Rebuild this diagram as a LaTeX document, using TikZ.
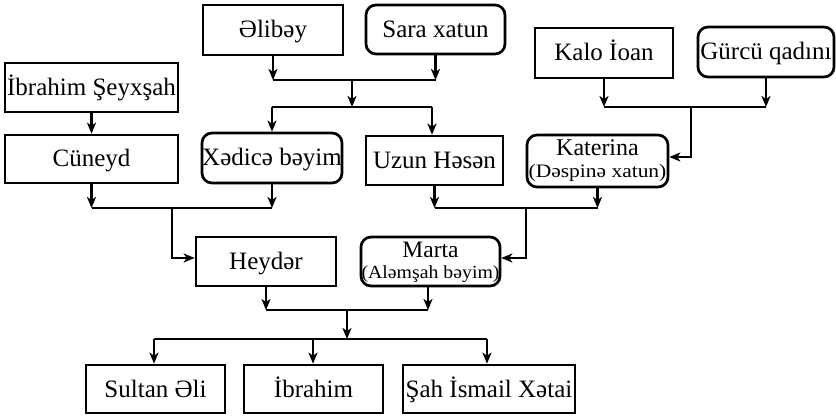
\documentclass[tikz,border=0pt]{standalone}
\usepackage{fontspec}
\setmainfont{Liberation Serif}
\usetikzlibrary{arrows.meta}
\begin{document}
\begin{tikzpicture}[x=1pt,y=-1pt,
  box/.style={draw, line width=2.7pt, inner sep=0pt, font=\fontsize{25}{18}\selectfont,
     text height=16pt, text depth=0pt},
  rbox/.style={box, rounded corners=10pt},
  ln/.style={line width=2.4pt},
  arr/.style={ln, -{Stealth[length=11pt,width=9pt,inset=3pt]}}]
\useasboundingbox (0,0) rectangle (836,417);
% boxes
\node[box, minimum width=140pt, minimum height=50pt] (alibey) at (273,30) {Əlibəy};
\node[rbox, minimum width=139pt, minimum height=49pt] (sara) at (435.5,29.5) {Sara xatun};
\node[box, minimum width=173pt, minimum height=49pt] (ibrs) at (91.5,87.5) {İbrahim Şeyxşah};
\node[box, minimum width=138pt, minimum height=50pt] (kalo) at (604,53) {Kalo İoan};
\node[rbox, minimum width=136pt, minimum height=50pt] (gurcu) at (766,52) {Gürcü qadını};
\node[box, minimum width=173pt, minimum height=48pt] (cuneyd) at (91.5,159) {Cüneyd};
\node[rbox, minimum width=140pt, minimum height=50pt] (xedice) at (272,158) {Xədicə bəyim};
\node[box, minimum width=137pt, minimum height=49pt] (uzun) at (434.5,160.5) {Uzun Həsən};
\node[rbox, minimum width=141pt, minimum height=52pt, align=center,
      font=\fontsize{24}{22}\selectfont, text height=38pt, text depth=4pt] (katerina) at (597.5,161)
  {Katerina\\\scalebox{1.13}[1]{\fontsize{19}{22}\selectfont(Dəspinə xatun)}};
\node[box, minimum width=140pt, minimum height=49pt] (heyder) at (266,261.5) {Heydər};
\node[rbox, minimum width=139pt, minimum height=49pt, align=center,
      font=\fontsize{23.5}{21.5}\selectfont, text height=37pt, text depth=3pt] (marta) at (430.5,261.5)
  {Marta\\\scalebox{1.07}[1]{\fontsize{18.5}{21.5}\selectfont(Aləmşah bəyim)}};
\node[box, minimum width=139pt, minimum height=48pt] (sultan) at (155.5,389) {Sultan Əli};
\node[box, minimum width=139pt, minimum height=48pt] (ibrahim) at (313.5,389) {İbrahim};
\node[box, minimum width=172pt, minimum height=48pt] (sah) at (489,389) {Şah İsmail Xətai};
% junction coordinates
\coordinate (j1) at (352,80);
\coordinate (j2) at (352,107);
\coordinate (ja) at (272,107);
\coordinate (jb) at (432,107);
\coordinate (k1) at (691,107);
\coordinate (k2) at (691,157);
\coordinate (h1) at (172,208);
\coordinate (h2) at (172,258);
\coordinate (m1) at (526,208);
\coordinate (m2) at (526,258);
\coordinate (c1) at (347,310);
\coordinate (c2) at (347,339);
% Alibey + Sara
\draw[arr] (alibey.south) -- (alibey.south |- j1);
\draw[arr] (sara.south) -- (sara.south |- j1);
\draw[ln] (alibey.south |- j1) -- (sara.south |- j1);
\draw[arr] (j1) -- (j2);
\draw[ln] (ja) -- (jb);
\draw[arr] (ja) -- (ja |- xedice.north);
\draw[arr] (jb) -- (jb |- uzun.north);
% Kalo + Gurcu
\draw[arr] (kalo.south) -- (kalo.south |- k1);
\draw[arr] (gurcu.south) -- (gurcu.south |- k1);
\draw[ln] (kalo.south |- k1) -- (gurcu.south |- k1);
\draw[arr] (k1) -- (k2) -- (k2 -| katerina.east);
% Ibrahim Seyxsah -> Cuneyd
\draw[arr] (ibrs.south) -- (cuneyd.north);
% Cuneyd + Xedice -> Heyder
\draw[arr] (cuneyd.south) -- (cuneyd.south |- h1);
\draw[arr] (xedice.south) -- (xedice.south |- h1);
\draw[ln] (cuneyd.south |- h1) -- (xedice.south |- h1);
\draw[arr] (h1) -- (h2) -- (h2 -| heyder.west);
% Uzun + Katerina -> Marta
\draw[arr] (uzun.south) -- (uzun.south |- m1);
\draw[arr] (katerina.south) -- (katerina.south |- m1);
\draw[ln] (uzun.south |- m1) -- (katerina.south |- m1);
\draw[arr] (m1) -- (m2) -- (m2 -| marta.east);
% Heyder + Marta -> children
\coordinate (mb) at (428,286);
\draw[arr] (heyder.south) -- (heyder.south |- c1);
\draw[arr] (mb) -- (mb |- c1);
\draw[ln] (heyder.south |- c1) -- (mb |- c1);
\draw[arr] (c1) -- (c2);
\coordinate (s1) at (154,339);
\coordinate (s2) at (313,339);
\coordinate (s3) at (487,339);
\draw[ln] (s1) -- (s3);
\draw[arr] (s1) -- (s1 |- sultan.north);
\draw[arr] (s2) -- (s2 |- ibrahim.north);
\draw[arr] (s3) -- (s3 |- sah.north);
\end{tikzpicture}
\end{document}
